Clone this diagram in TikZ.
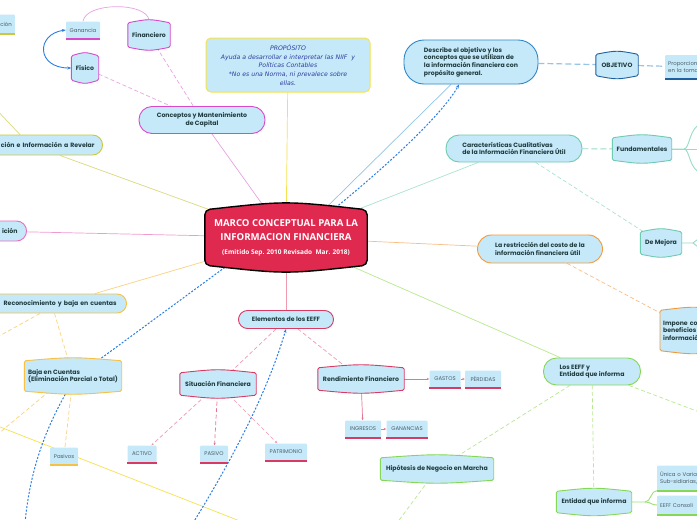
\documentclass[tikz,border=0pt]{standalone}
\usepackage{fontspec}
\setmainfont{Poppins}
\newfontfamily\titlefont{Open Sans}
\newfontfamily\notefont{DejaVu Sans}
\usetikzlibrary{arrows.meta,calc}
\definecolor{Sky}{HTML}{C6E9F9}
\definecolor{Ink}{HTML}{1F3B3F}
\definecolor{LeafInk}{HTML}{4C5C68}
\definecolor{Crimson}{HTML}{E0294F}
\definecolor{Rose}{HTML}{D93A63}
\definecolor{RoseLine}{HTML}{F09AB0}
\definecolor{Orchid}{HTML}{D848CB}
\definecolor{OrchidLine}{HTML}{E9A2E3}
\definecolor{Olive}{HTML}{CBC83E}
\definecolor{OliveLine}{HTML}{DCD97E}
\definecolor{Pink}{HTML}{EA6CBC}
\definecolor{PinkLine}{HTML}{F09ACF}
\definecolor{Amber}{HTML}{F6C145}
\definecolor{AmberLine}{HTML}{F9D37F}
\definecolor{Lemon}{HTML}{F5E24E}
\definecolor{Azure}{HTML}{2C7DE3}
\definecolor{Ocean}{HTML}{2F87C8}
\definecolor{Navy}{HTML}{1E5F9F}
\definecolor{SkyLine}{HTML}{94C4E6}
\definecolor{Teal}{HTML}{6DCBB0}
\definecolor{TealLine}{HTML}{A9E3D2}
\definecolor{Tangerine}{HTML}{F29A3B}
\definecolor{TangerineLine}{HTML}{F8BE86}
\definecolor{Lime}{HTML}{85D856}
\definecolor{LimeLine}{HTML}{B8E98F}
\definecolor{Indigo}{HTML}{2D3CA0}

\pgfdeclarelayer{edges}
\pgfdeclarelayer{shapes}
\pgfsetlayers{edges,shapes,main}

% barrel outline round a plain node
\newcommand{\tapenode}[3][]{%
  \path[fill=Sky,line width=0.9pt,rounded corners=1.5pt,#1]
    (#2.north west) .. controls ($(#2.north)+(0,-#3)$) .. (#2.north east)
    -- (#2.south east) .. controls ($(#2.south)+(0,#3)$) .. (#2.south west)
    -- cycle;}

\begin{document}
\begin{tikzpicture}[x=1pt,y=-1pt,
    txt/.style={text=Ink,font=\fontsize{6.2}{7.6}\selectfont\bfseries,inner sep=2pt},
    pill/.style={txt,fill=Sky,line width=0.9pt,rounded corners=#1},
    pill/.default=9pt,
    tapebox/.style={txt},
    leaf/.style={fill=Sky,rounded corners=1pt,text=LeafInk,
      font=\fontsize{5.4}{6.8}\selectfont,inner sep=3pt,minimum height=17pt},
    conn/.style={line width=0.7pt},
    dashlink/.style={conn,dash pattern=on 4pt off 2.5pt},
    dotlink/.style={Azure,line width=1pt,dash pattern=on 2pt off 1.6pt},
    arr/.style={-{Stealth[length=2.6pt,width=2.2pt]}}]
  \useasboundingbox (0,0) rectangle (697,520);
  \clip (0,0) rectangle (697,520);

  % centre and left half
  \node[tapebox,minimum width=162pt,minimum height=55pt,text=white,align=center,
    font=\titlefont\bfseries\fontsize{9.6}{14}\selectfont] (cen) at (286,237.5)
    {MARCO CONCEPTUAL PARA LA\\INFORMACION FINANCIERA\\
     {\fontsize{6.5}{8}\selectfont (Emitido Sep. 2010 Revisado\ \ Mar. 2018)}};
  \node[txt,text=Indigo,font=\notefont\itshape\fontsize{6.2}{8.6}\selectfont,
    fill=Sky,draw=Lemon,line width=1pt,rounded corners=5pt,
    minimum width=164pt,minimum height=54pt,align=center] (prop) at (288,65)
    {PROPÓSITO\\Ayuda a desarrollar e interpretar las NIIF\ \ y\\Políticas Contables\\
     *No es una Norma, ni prevalece sobre\\ellas.};
  \node[pill=13pt,draw=Orchid,minimum width=126pt,minimum height=27pt,align=center]
    (capital) at (202,120) {Conceptos y Mantenimiento\\de Capital};
  \node[tapebox,minimum width=42pt,minimum height=24pt] (financ) at (149,35) {Financiero};
  \node[tapebox,minimum width=27pt,minimum height=24pt] (fisico) at (85,68) {Físico};
  \node[leaf,minimum width=34pt] (gan) at (83,30) {Ganancia};
  \node[leaf,anchor=east,text width=40pt,align=right,minimum height=19pt]
    (ctop) at (15,24) {ción};
  \node[pill=10pt,draw=Olive,anchor=east,text width=180pt,align=right,
    inner xsep=8pt,minimum height=20pt] (revelar) at (103,145)
    {ción e Información a Revelar};
  \node[pill=10pt,draw=Pink,anchor=east,text width=60pt,align=right,
    inner xsep=9pt,minimum height=20pt] (icion) at (27,231) {ición};
  \node[pill=9.5pt,draw=Amber,anchor=east,text width=130pt,align=right,
    inner xsep=10pt,minimum height=19pt] (recon) at (127,303.5)
    {Reconocimiento y baja en cuentas};
  \node[tapebox,minimum width=97pt,minimum height=30pt,align=left] (baja) at (73,376)
    {Baja en Cuentas\\(Eliminación Parcial o Total)};
  \node[leaf,minimum width=28pt] (pasivos) at (64,456) {Pasivos};

  % right half
  \node[pill=20pt,draw=Ocean,minimum width=134pt,minimum height=44pt,align=left]
    (describe) at (471,62) {Describe el objetivo y los\\conceptos que se utilizan de\\
     la información financiera con\\propósito general.};
  \node[tapebox,minimum width=42pt,minimum height=21pt] (objetivo) at (617,65) {OBJETIVO};
  \node[leaf,anchor=west,text width=50pt,align=left,minimum height=24pt]
    (proporc) at (665,67) {Proporcion\\en la toma};
  \node[pill=13pt,draw=Teal,minimum width=136pt,minimum height=27pt,align=left]
    (caract) at (514,148.5) {Características Cualitativas\\de la Información Financiera Útil};
  \node[tapebox,minimum width=59pt,minimum height=22pt] (fundam) at (642,149) {Fundamentales};
  \node[tapebox,minimum width=41pt,minimum height=22pt] (mejora) at (661,243) {De Mejora};
  \node[pill=14pt,draw=Tangerine,minimum width=125pt,minimum height=28pt,align=left]
    (costo) at (540,249) {La restricción del costo de la\\información financiera útil};
  \node[tapebox,anchor=west,text width=60pt,align=left,inner xsep=3pt,minimum height=40pt]
    (impone) at (660,330.5) {Impone cost\\beneficios d\\información};
  \node[pill=13pt,draw=Lime,minimum width=97pt,minimum height=27pt,align=left]
    (eeffent) at (592,371.5) {Los EEFF y\\Entidad que informa};
  \node[tapebox,minimum width=113pt,minimum height=22pt] (hipotesis) at (437,469)
    {Hipótesis de Negocio en Marcha};
  \node[tapebox,minimum width=75pt,minimum height=21pt] (entidad) at (594,502)
    {Entidad que informa};
  \node[leaf,anchor=west,text width=50pt,align=left,minimum height=25pt]
    (unica) at (657,478) {Única o Varia\\Sub-sidiarias,};
  \node[leaf,anchor=west,text width=50pt,align=left,minimum height=19pt]
    (consol) at (657,505) {EEFF Consoli};

  % elementos
  \node[pill=9pt,draw=Rose,minimum width=95pt,minimum height=18pt] (elem) at (286,319.5)
    {Elementos de los EEFF};
  \node[tapebox,minimum width=76pt,minimum height=22pt] (situ) at (218,384) {Situación Financiera};
  \node[tapebox,minimum width=86pt,minimum height=22pt] (rend) at (361,379) {Rendimiento Financiero};
  \foreach \n/\x/\y/\w/\t in {activo/142/454/29/ACTIVO,pasivo/214/454/28/PASIVO,
      patrim/286/452/42/PATRIMONIO,gastos/445/379/31/GASTOS,perdidas/483/379/36/PÉRDIDAS,
      ingresos/363/429/36/INGRESOS,gananc/407/429/41/GANANCIAS}
    \node[leaf,minimum width=\w pt] (\n) at (\x,\y) {\t};

  \foreach \n/\c in {gan/Orchid,ctop/Olive,pasivos/Amber,proporc/Navy,unica/Lime,
      consol/Lime,activo/Rose,pasivo/Rose,patrim/Rose,gastos/Rose,perdidas/Rose,
      ingresos/Rose,gananc/Rose}
    \draw[\c,line width=1.6pt] (\n.south west) -- (\n.south east);

  \begin{pgfonlayer}{shapes}
    \tapenode[fill=Crimson,draw=black,line width=1.4pt,rounded corners=5pt]{cen}{9}
    \foreach \n/\c in {financ/Orchid,fisico/Orchid,baja/Amber,objetivo/Navy,
        fundam/Teal,mejora/Teal,impone/Tangerine,hipotesis/Lime,entidad/Lime,
        situ/Rose,rend/Rose}
      {\tapenode[draw=\c]{\n}{4}}
  \end{pgfonlayer}

  \begin{pgfonlayer}{edges}
    \fill[white] (0,0) rectangle (697,520);
    \coordinate (offrev) at (-8,105);
    \coordinate (offrec) at (-8,340);
    \coordinate (offbaja) at (-8,439);
    \coordinate (offya) at (-5,425);
    \coordinate (offyb) at (245,523);
    \coordinate (offbl) at (25,523);
    \coordinate (offbr) at (193,523);
    \coordinate (offent) at (702,413);
    \coordinate (offhip) at (397,523);
    \coordinate (fup) at (702,124);
    \coordinate (fmid) at (702,149);
    \coordinate (fdown) at (702,173);
    \coordinate (mup) at (702,236);
    \coordinate (mdown) at (702,250);
    \coordinate (ebr) at (645,502);

    % left
    \draw[conn,Lemon] (prop) -- (cen);
    \draw[conn,OrchidLine] (capital) -- (cen);
    \draw[dashlink,OrchidLine] (financ) -- (capital);
    \draw[dashlink,OrchidLine] (fisico) -- (capital);
    \draw[conn,OrchidLine] (gan.north) .. controls (86,2) and (146,2) .. ([yshift=3pt]financ.north);
    \draw[Azure,line width=0.9pt,{Stealth[length=4pt]}-{Stealth[length=4pt]}]
      (gan.west) .. controls (36,34) and (36,68) .. (fisico.west);
    \draw[conn,OliveLine] ([xshift=-43pt]revelar.south east) -- (cen);
    \draw[conn,OliveLine] ([xshift=-83pt]revelar.north east) -- (offrev);
    \draw[conn,PinkLine] (icion) -- (cen);
    \draw[conn,AmberLine] ([xshift=-32pt]recon.north east) -- (cen);
    \draw[dashlink,AmberLine] (recon) -- (baja);
    \draw[dashlink,AmberLine] ([xshift=-87pt]recon.south east) -- (offrec);
    \draw[dashlink,AmberLine] (baja) -- (pasivos);
    \draw[dashlink,AmberLine] ([xshift=25pt]baja.south west) -- (offbaja);
    \draw[conn,Lemon] (offya) -- (offyb);
    \draw[dotlink] ([xshift=23pt]cen.south west) -- ([xshift=-24pt]baja.north east);
    \draw[dotlink] ([xshift=-6pt]baja.south) .. controls (45,430) and (30,470) .. (offbl);
    \draw[dotlink,-{Stealth[length=4pt]}] (offbr) .. controls (235,455) and (268,390) .. (elem.south);

    % right
    \draw[conn,SkyLine] ([xshift=38pt]cen.north) -- ([xshift=-20pt]describe.south);
    \draw[dotlink,-{Stealth[length=4pt]}] ([xshift=47pt]cen.north)
      .. controls (400,155) and (445,110) .. ([xshift=-12pt]describe.south);
    \draw[SkyLine,line width=1.2pt,dash pattern=on 6pt off 3pt] (describe) -- (objetivo);
    \draw[SkyLine,line width=1.2pt,dash pattern=on 6pt off 3pt] (objetivo) -- (proporc);
    \draw[conn,TealLine] (caract) -- (cen);
    \draw[Teal!70,line width=0.9pt,dash pattern=on 6pt off 3pt] (caract) -- (fundam);
    \draw[Teal!70,line width=0.9pt] (fundam.east) -- (684,149)
      .. controls (690,149) and (689,126) .. (fup);
    \draw[Teal!70,line width=0.9pt] (fundam.east) -- (fmid);
    \draw[Teal!70,line width=0.9pt] (684,149) .. controls (690,149) and (689,171) .. (fdown);
    \draw[dashlink,TealLine] (caract) -- (mejora);
    \draw[Teal!70,line width=0.9pt] (mejora.east) -- (693,243) -- (mup);
    \draw[Teal!70,line width=0.9pt] (693,243) -- (mdown);
    \draw[conn,TangerineLine] (costo) -- (cen);
    \draw[dashlink,TangerineLine] (costo) -- (impone);
    \draw[conn,LimeLine] (eeffent) -- (cen);
    \draw[dashlink,LimeLine] (eeffent) -- (hipotesis);
    \draw[dashlink,LimeLine] (eeffent) -- (entidad);
    \draw[dashlink,LimeLine] (eeffent) -- (offent);
    \draw[dashlink,LimeLine] (hipotesis) -- (offhip);
    \draw[Lime!80,line width=0.9pt] (entidad.east) -- (ebr)
      .. controls (651,502) and (651,490) .. (unica.south west);
    \draw[Lime!80,line width=0.9pt] (ebr) .. controls (651,502) and (651,505) .. (consol.west);

    % elementos
    \draw[conn,RoseLine] (cen) -- (elem);
    \draw[dashlink,RoseLine,arr] (elem) -- (situ);
    \draw[dashlink,RoseLine,arr] (elem) -- (rend);
    \draw[dashlink,RoseLine,arr] (situ) -- (activo);
    \draw[dashlink,Rose!70,arr] (situ) -- (pasivo);
    \draw[dashlink,RoseLine,arr] (situ) -- (patrim);
    \draw[conn,Rose!70,arr] (rend) -- (gastos);
    \draw[conn,Rose!70,arr] (gastos) -- (perdidas);
    \draw[conn,Rose!70,arr] (rend) -- (ingresos);
    \draw[conn,Rose!70,arr] (ingresos) -- (gananc);
  \end{pgfonlayer}
\end{tikzpicture}
\end{document}
